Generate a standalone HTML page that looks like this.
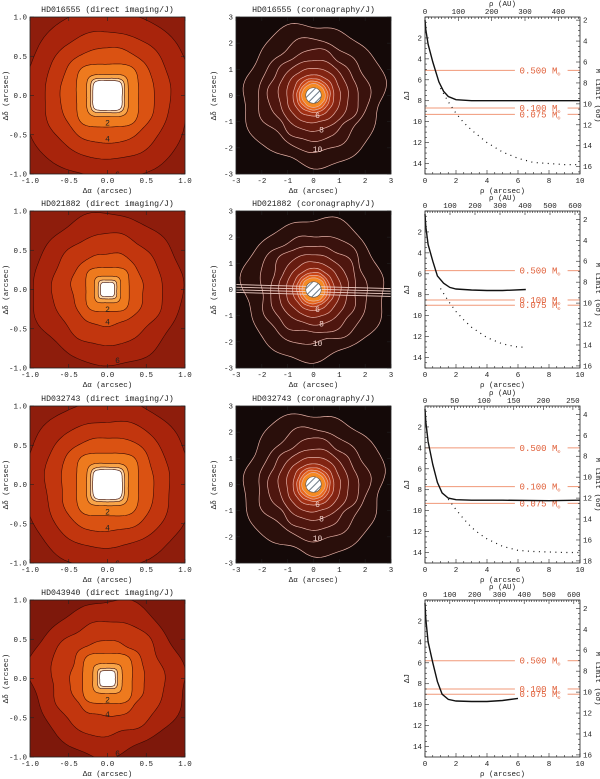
<!DOCTYPE html>
<html><head><meta charset="utf-8"><style>
html,body{margin:0;padding:0;background:#fff;}
svg{display:block;font-family:"Liberation Mono",monospace;}
</style></head><body>
<svg id="fig" width="600" height="779" viewBox="0 0 600 779" xmlns="http://www.w3.org/2000/svg">
<defs>
<pattern id="hatch" width="5" height="5" patternUnits="userSpaceOnUse" patternTransform="rotate(45)">
<rect width="5" height="5" fill="#fff"/><line x1="0" y1="0" x2="0" y2="5" stroke="#4a5a6a" stroke-width="1.6"/>
</pattern>
</defs>
</svg>
<script>
// ---- layout data (not chart values) ----
const rowTops=[17,211,406,600];
const colX=[30,236,425];
const W=155,H=157;

// ---- chart data: detection limits (right panels) ----
const starNames=["HD016555","HD021882","HD032743","HD043940"];
const auMax=[465,620,262,625];
const auStep=[100,100,50,100];
const mjOffset=[1.7,1.2,3.2,1.2];
const massLabels=["0.500","0.100","0.075"];
const massLevels0=[5.1,8.7,9.3];
const massLevels1=[5.7,8.5,9.0];
const massLevels2=[4.0,7.7,9.3];
const massLevels3=[5.8,8.5,9.0];
const solidRho0=[0,0.05,0.2,0.5,0.9,1.2,1.5,2,3,5,8,10];
const solidDJ0=[0.3,1.2,2.6,4.3,6.2,7.1,7.6,7.9,8.0,8.0,8.0,8.0];
const dotRho0=[1,1.5,2,2.5,3,4,5,6,7,8,9,10];
const dotDJ0=[6.8,8.1,9.2,10.1,10.8,12.0,12.9,13.5,13.9,14.0,14.1,14.1];
const solidRho1=[0,0.05,0.2,0.5,0.8,1.2,1.6,2,3,4,5,6.5];
const solidDJ1=[0.3,1.5,3.2,4.8,6.2,6.9,7.3,7.45,7.55,7.6,7.6,7.5];
const dotRho1=[1,1.5,2,2.5,3,4,5,6,6.5];
const dotDJ1=[7.4,8.6,9.6,10.4,11.1,12.1,12.7,13.0,13.0];
const solidRho2=[0,0.05,0.2,0.5,0.8,1.1,1.5,2,3,5,8,10];
const solidDJ2=[0.3,1.5,3.4,5.6,7.3,8.3,8.8,8.95,9.0,9.0,9.05,9.0];
const dotRho2=[1.5,2,2.5,3,3.5,4,5,6,7,8,9,10];
const dotDJ2=[8.9,9.9,10.8,11.6,12.2,12.7,13.4,13.8,13.9,13.95,14.0,14.0];
const solidRho3=[0,0.05,0.2,0.5,0.8,1.1,1.5,2,3,4,5,6];
const solidDJ3=[0.3,1.8,4.0,6.0,7.8,9.0,9.5,9.65,9.7,9.7,9.6,9.4];
const dotRho3=[];
const dotDJ3=[];

// ---- contour map data ----
const directRadii0=[1.05,0.8,0.6,0.4,0.27,0.22,0.19];
const directRadii1=[0.95,0.7,0.46,0.28,0.17,0.12,0.09];
const directRadii2=[1.05,0.8,0.6,0.4,0.27,0.22,0.19];
const directRadii3=[1.0,0.75,0.5,0.32,0.19,0.13,0.1];
const coronaRadii=[2.7,2.1,1.7,1.35,1.05,0.8,0.65,0.55,0.45];

const svg=document.getElementById('fig');
const NS="http://www.w3.org/2000/svg";
function mk(tag,attrs,parent){const e=document.createElementNS(NS,tag);for(const k in attrs)e.setAttribute(k,attrs[k]);(parent||svg).appendChild(e);return e;}
function txt(s,x,y,size,anchor,parent,extra){const t=mk('text',Object.assign({x:x,y:y,'font-size':size,'text-anchor':anchor||'middle',fill:'#222'},extra||{}),parent);t.textContent=s;return t;}

function shapePath(cx,cy,sx,sy,R,n,wob,seed){
  let d="";
  for(let i=0;i<=120;i++){
    const th=i/120*2*Math.PI;const c=Math.cos(th),s=Math.sin(th);
    let r=R/Math.pow(Math.pow(Math.abs(c),n)+Math.pow(Math.abs(s),n),1/n);
    r*=1+wob*(0.5*Math.sin(4*th+seed)+0.3*Math.sin(7*th+seed*2)+0.2*Math.sin(11*th));
    d+=(i?"L":"M")+(cx+r*c*sx).toFixed(1)+","+(cy-r*s*sy).toFixed(1);
  }
  return d+"Z";
}

function frameTicks(g,x0,y0,vals,lo,hi,fmt){
  vals.forEach(v=>{
    const px=x0+(v-lo)/(hi-lo)*W, py=y0+H-(v-lo)/(hi-lo)*H;
    mk('line',{x1:px,y1:y0+H,x2:px,y2:y0+H-4,stroke:'#222','stroke-width':0.6},g);
    mk('line',{x1:px,y1:y0,x2:px,y2:y0+4,stroke:'#222','stroke-width':0.6},g);
    mk('line',{x1:x0,y1:py,x2:x0+4,y2:py,stroke:'#222','stroke-width':0.6},g);
    mk('line',{x1:x0+W,y1:py,x2:x0+W-4,y2:py,stroke:'#222','stroke-width':0.6},g);
    const tx=txt(fmt(v),px,y0+H+9,7.5,'middle',g);
    
    const ty=txt(fmt(v),x0-3,py+2.5,7.5,'end',g);
    
  });
}

const directColors=['#a8240c','#c2360e','#da5212','#ee7a1e','#f8a448','#fdd6a8','#ffffff'];
const directSets=[directRadii0,directRadii1,directRadii2,directRadii3];
const directN=[2.4,2.2,2.4,1.8];
const directWob=[0.03,0.05,0.03,0.07];
const coronaFill=['#2a0f0b','#3a120d','#4e160f','#661c10','#822412','#a23014','#c84516','#e8681a','#f58a22'];

for(let r=0;r<4;r++){
  const y0=rowTops[r];
  {
    const x0=colX[0],cx=x0+W/2,cy=y0+H/2,sx=W/2,sy=H/2;
    const g=mk('g',{});
    
    
    const cid='clipd'+r;
    const cp=mk('clipPath',{id:cid},g);mk('rect',{x:x0,y:y0,width:W,height:H},cp);
    const inner=mk('g',{'clip-path':'url(#'+cid+')'},g);
    mk('rect',{x:x0,y:y0,width:W,height:H,fill:r==3?'#7e180b':'#8e1d0c'},inner);
    const rads=directSets[r];
    rads.forEach((R,i)=>{
      const n=i<3?directN[r]:3.5+i*0.3;
      const p=mk('path',{d:shapePath(cx,cy,sx,sy,R,n,i<3?directWob[r]:0.01,r+i),fill:directColors[i],stroke:'#3a0a04','stroke-width':0.6},inner);
      
      
    });
    txt('2',cx,cy+rads[4]*sy+9,8,'middle',inner);
    txt('4',cx,cy+rads[2]*sy-1,8,'middle',inner);
    txt('6',cx+10,cy+rads[0]*sy-1,8,'middle',inner);
    mk('rect',{x:x0,y:y0,width:W,height:H,fill:'none',stroke:'#222','stroke-width':0.8},g);
    frameTicks(g,x0,y0,[-1,-0.5,0,0.5,1],-1,1,v=>v.toFixed(1));
    const t=txt(starNames[r]+' (direct imaging/J)',cx,y0-5,8.2,'middle',g);
    
    txt('Δα (arcsec)',cx,y0+H+19,7.5,'middle',g);
    txt('Δδ (arcsec)',0,0,7.5,'middle',g,{transform:'translate(8,'+cy+') rotate(-90)'});
  }
  if(r<3){
    const x0=colX[1],cx=x0+W/2,cy=y0+H/2,sx=W/6,sy=H/6;
    const g=mk('g',{});
    
    
    const cid='clipc'+r;
    const cp=mk('clipPath',{id:cid},g);mk('rect',{x:x0,y:y0,width:W,height:H},cp);
    const inner=mk('g',{'clip-path':'url(#'+cid+')'},g);
    mk('rect',{x:x0,y:y0,width:W,height:H,fill:'#140908'},inner);
    coronaRadii.forEach((R,i)=>{
      const p=mk('path',{d:shapePath(cx,cy,sx,sy,R,2,i<3?0.08:0.03,r*3+i),fill:coronaFill[i],stroke:'#e6b0a6','stroke-width':0.7},inner);
      
      
    });
    if(r==1){
      [-0.15,-0.05,0.05,0.15].forEach(o=>mk('line',{x1:x0,y1:cy+o*sy-1,x2:x0+W,y2:cy+o*sy+3,stroke:'#f0d0c8','stroke-width':0.9},inner));
    }
    const hc=mk('circle',{cx:cx,cy:cy,r:0.3*sx,fill:'url(#hatch)',stroke:'#555','stroke-width':0.6},inner);
    
    txt('6',cx+4,cy+0.75*sy+3,8,'middle',inner,{fill:'#f3d6d0'});
    txt('8',cx+8,cy+1.3*sy+3,8,'middle',inner,{fill:'#f3d6d0'});
    txt('10',cx+4,cy+2.05*sy+3,8,'middle',inner,{fill:'#f3d6d0'});
    mk('rect',{x:x0,y:y0,width:W,height:H,fill:'none',stroke:'#222','stroke-width':0.8},g);
    frameTicks(g,x0,y0,[-3,-2,-1,0,1,2,3],-3,3,v=>String(v));
    const t=txt(starNames[r]+' (coronagraphy/J)',cx,y0-5,8.2,'middle',g);
    
    txt('Δα (arcsec)',cx,y0+H+19,7.5,'middle',g);
    txt('Δδ (arcsec)',0,0,7.5,'middle',g,{transform:'translate(216,'+cy+') rotate(-90)'});
  }
  {
    const x0=colX[2];
    const xs=v=>x0+v/10*W, ys=v=>y0+v/15*H;
    const g=mk('g',{});
    
    
    const masses=[massLevels0,massLevels1,massLevels2,massLevels3][r];
    masses.forEach((m,i)=>{
      const l1=mk('line',{x1:xs(0),y1:ys(m),x2:xs(5.8),y2:ys(m),stroke:'#f09878','stroke-width':1},g);
      
      mk('line',{x1:xs(9.2),y1:ys(m),x2:xs(10),y2:ys(m),stroke:'#f09878','stroke-width':1},g);
      const t=txt(massLabels[i]+' M',xs(6.1),ys(m)+3,9,'start',g,{fill:'#e0603a'});
      const sub=mk('tspan',{'font-size':5,dy:2},t);sub.textContent='⊙';
      
    });
    const sR=[solidRho0,solidRho1,solidRho2,solidRho3][r], sD=[solidDJ0,solidDJ1,solidDJ2,solidDJ3][r];
    const sp=mk('path',{d:sR.map((v,i)=>(i?'L':'M')+xs(v).toFixed(1)+','+ys(sD[i]).toFixed(1)).join(''),fill:'none',stroke:'#111','stroke-width':1.4},g);
    
    const dR=[dotRho0,dotRho1,dotRho2,dotRho3][r], dD=[dotDJ0,dotDJ1,dotDJ2,dotDJ3][r];
    if(dR.length){
      const dp=mk('path',{d:dR.map((v,i)=>(i?'L':'M')+xs(v).toFixed(1)+','+ys(dD[i]).toFixed(1)).join(''),fill:'none',stroke:'#111','stroke-width':1.2,'stroke-dasharray':'1 4.5'},g);
      
    }
    mk('rect',{x:x0,y:y0,width:W,height:H,fill:'none',stroke:'#222','stroke-width':0.8},g);
    for(let v=0;v<=10;v+=0.5){const big=v%2==0;mk('line',{x1:xs(v),y1:y0+H,x2:xs(v),y2:y0+H-(big?4:2),stroke:'#222','stroke-width':0.6},g);
      if(big){const t=txt(String(v),xs(v),y0+H+9,7.5,'middle',g);}}
    const au=auMax[r];
    for(let a=0;a<=au;a+=auStep[r]/10){const big=Math.abs(a/auStep[r]-Math.round(a/auStep[r]))<1e-6;const px=xs(a/au*10);
      mk('line',{x1:px,y1:y0,x2:px,y2:y0+(big?4:2),stroke:'#222','stroke-width':0.6},g);
      if(big){const t=txt(String(Math.round(a)),px,y0-3,7.5,'middle',g);}}
    for(let v=0;v<=15;v+=0.5){const big=v%2==0;mk('line',{x1:x0,y1:ys(v),x2:x0+(big?4:2),y2:ys(v),stroke:'#222','stroke-width':0.6},g);
      if(big&&v>0){const t=txt(String(v),x0-3,ys(v)+2.5,7.5,'end',g);}}
    const off=mjOffset[r];
    for(let m=Math.ceil(off*2)/2;m<=15+off;m+=0.5){const big=m%2==0;const py=ys(m-off);
      mk('line',{x1:x0+W,y1:py,x2:x0+W-(big?4:2),y2:py,stroke:'#222','stroke-width':0.6},g);
      if(big){const t=txt(String(m),x0+W+3,py+2.5,7.5,'start',g);}}
    txt('ρ (arcsec)',x0+W/2,y0+H+19,7.5,'middle',g);
    txt('ρ (AU)',x0+W/2,y0-11,7.5,'middle',g);
    txt('ΔJ',0,0,7.5,'middle',g,{transform:'translate(409,'+(y0+H/2)+') rotate(-90)'});
    txt('M  limit (6σ)',0,0,7.5,'middle',g,{transform:'translate(596,'+(y0+H/2)+') rotate(90)'});
  }
}
</script>
</body></html>
